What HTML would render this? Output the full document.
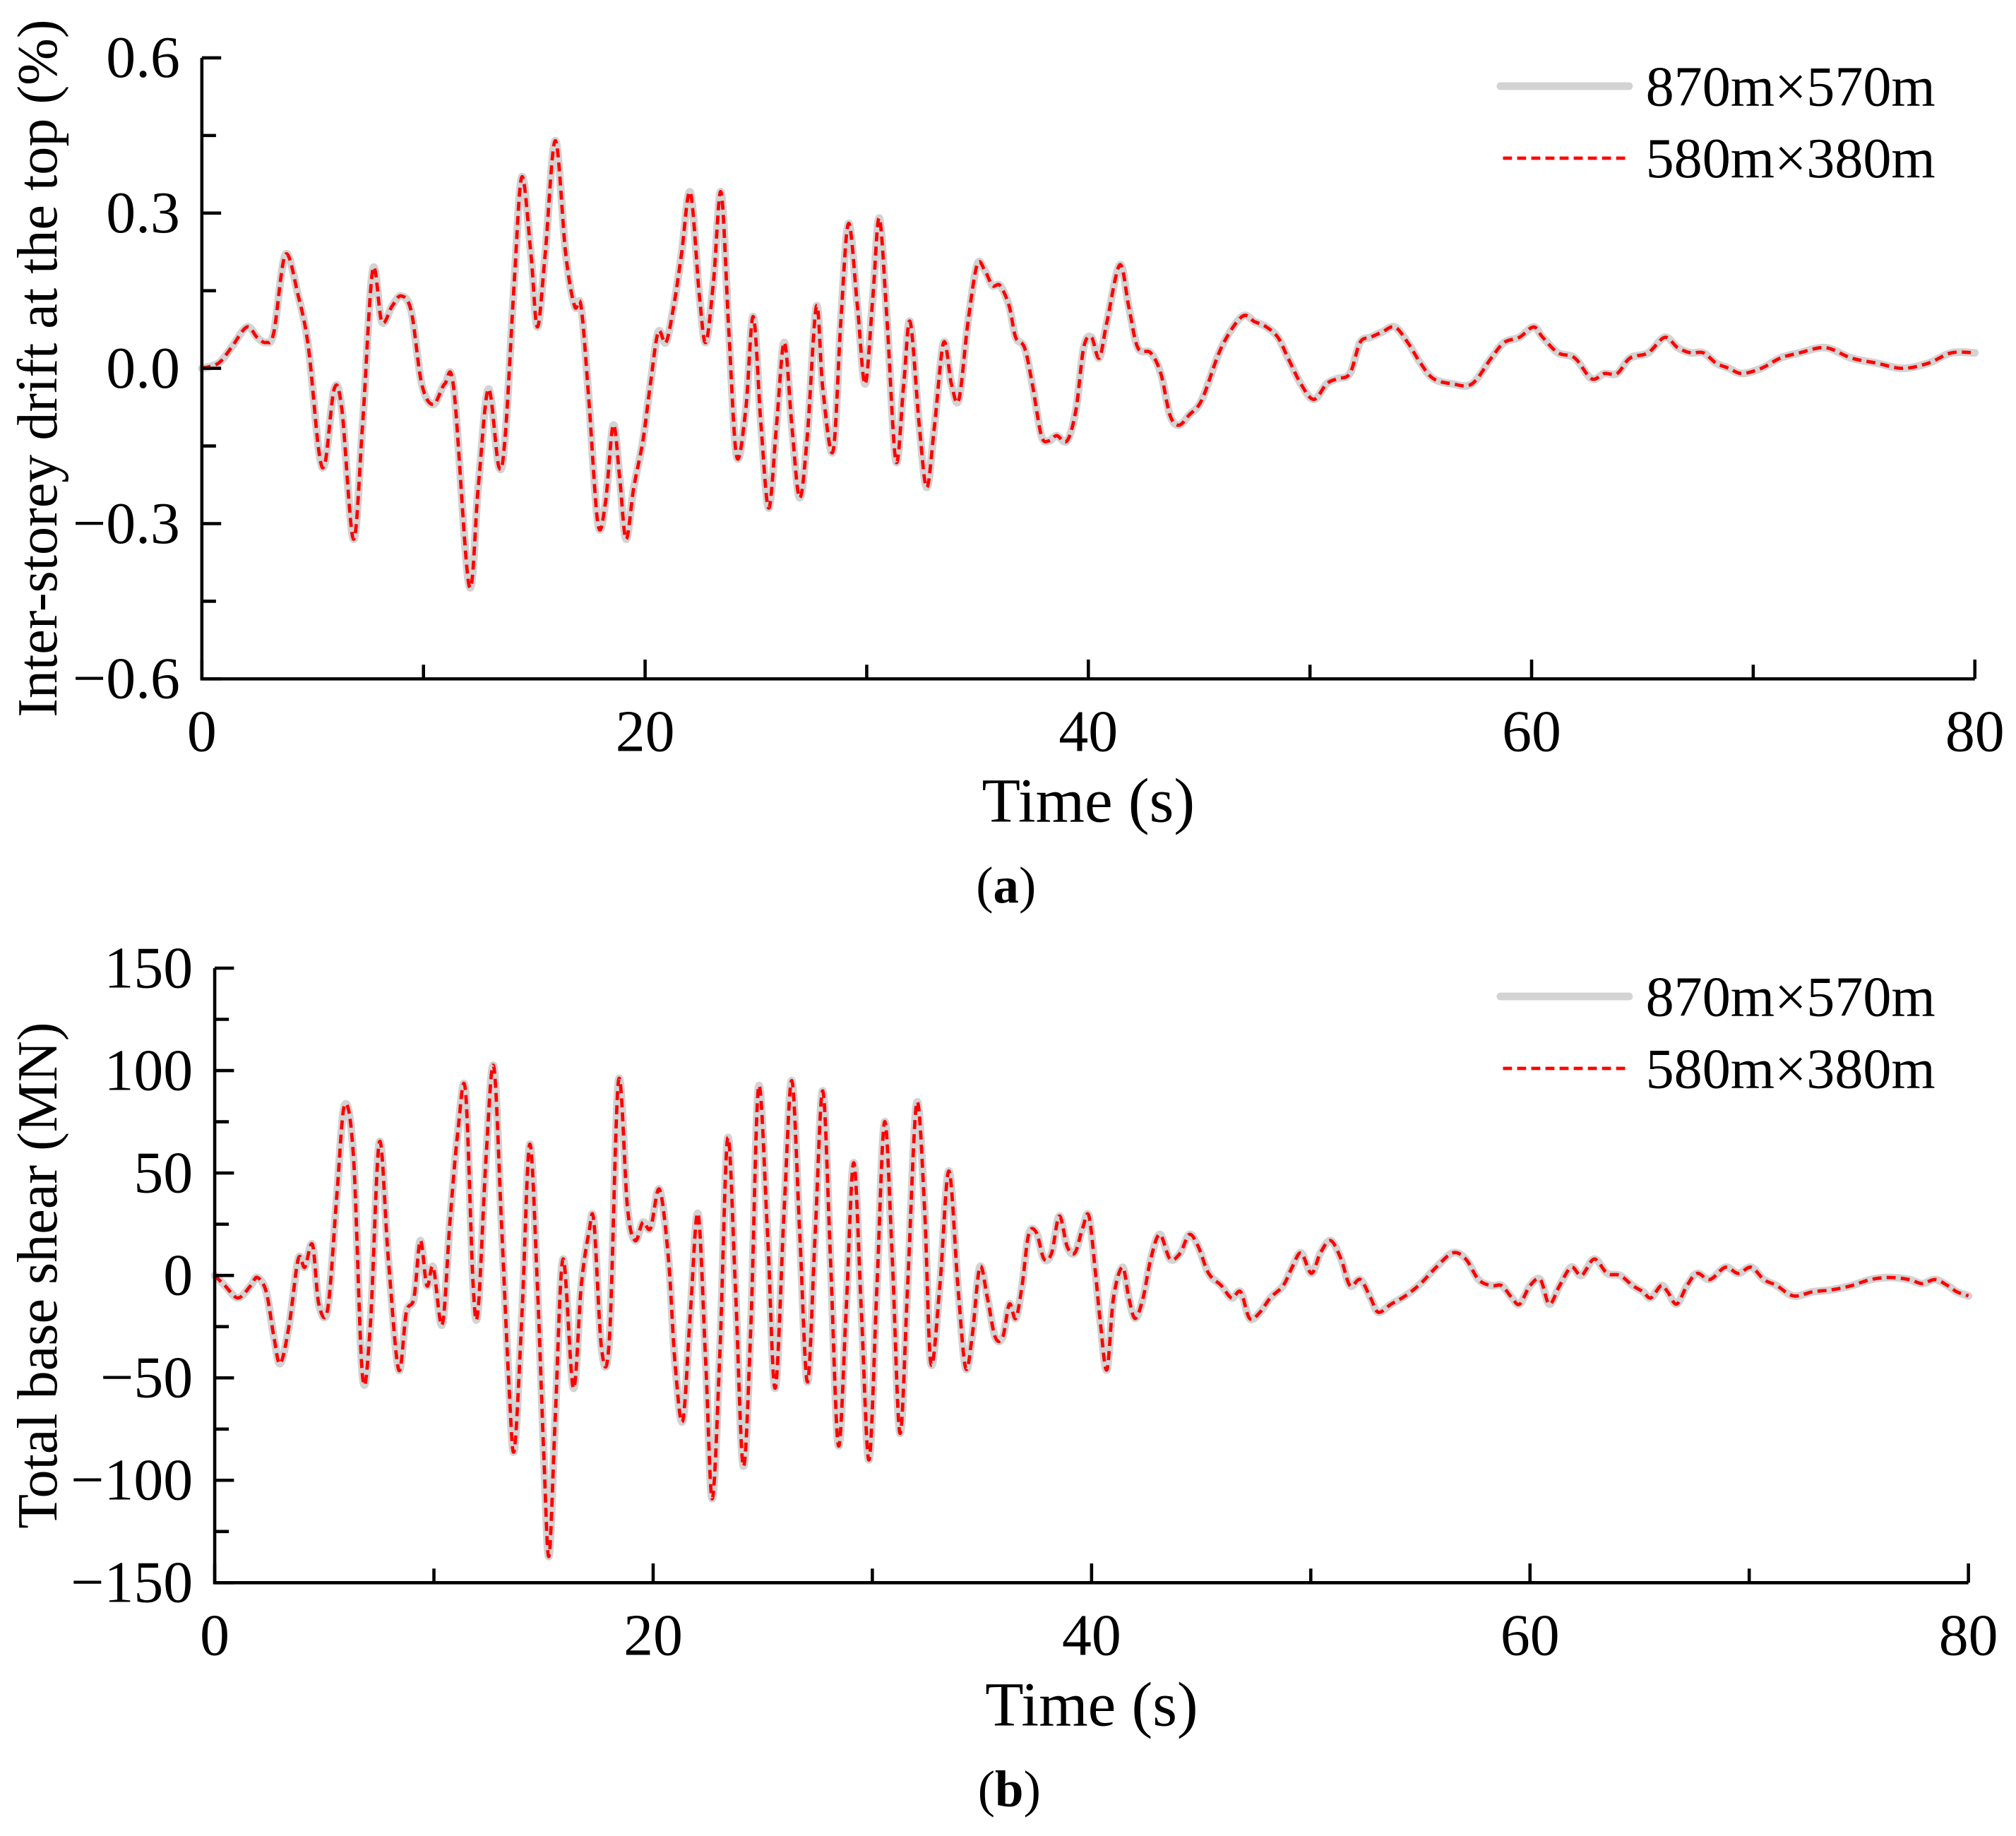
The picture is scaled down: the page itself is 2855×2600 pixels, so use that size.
<!DOCTYPE html>
<html><head><meta charset="utf-8"><style>
html,body{margin:0;padding:0;background:#fff;}
svg{display:block;}
text{font-family:"Liberation Serif","Times New Roman",serif;fill:#000;}
</style></head><body>
<svg id="fig" width="2855" height="2600" viewBox="0 0 1568 1428" preserveAspectRatio="none" xmlns="http://www.w3.org/2000/svg">
<g id="chartA"></g>
<g id="chartB"></g>
</svg>
<script>
// ---- Chart (a) data: inter-storey drift (%) ----
const timeA = [0,0.75,1.33,2.03,2.49,2.9,3.25,3.77,4.35,4.81,5.28,5.57,5.97,6.32,6.84,7.25,7.71,8.12,8.58,8.99,9.45,9.92,10.44,10.96,11.37,12.06,12.47,12.93,13.4,13.69,14.1,14.44,14.85,15.14,15.49,15.95,16.42,16.82,17.11,17.46,17.87,18.21,18.56,18.85,19.14,19.49,19.9,20.24,20.59,20.94,21.29,21.64,22.04,22.45,22.74,23.09,23.43,23.78,24.13,24.54,24.88,25.23,25.58,25.93,26.28,26.62,26.97,27.32,27.73,28.02,28.48,28.83,29.18,29.58,29.93,30.28,30.57,30.92,31.32,31.67,31.96,32.37,32.71,33.06,33.47,33.82,34.16,34.57,34.98,35.32,35.67,36.02,36.43,36.72,37.12,37.47,37.88,38.23,38.57,39.04,39.44,39.79,40.14,40.49,40.84,41.42,41.82,42.23,42.81,43.27,43.68,44.08,44.55,45.13,46.0,46.93,47.51,48.03,48.55,49.01,49.59,50.17,50.75,51.22,51.8,52.26,52.73,53.25,53.83,54.41,54.99,55.57,56.44,57.31,58.18,58.76,59.45,60.09,60.5,61.19,61.95,62.7,63.28,63.86,64.44,65.26,66.01,66.59,67.17,67.75,68.33,68.91,69.49,70.36,71.23,72.1,73.26,74.42,75.58,76.74,77.9,78.94,80];
const driftRed = [0,0.01,0.04,0.08,0.06,0.05,0.07,0.22,0.14,0.04,-0.16,-0.18,-0.04,-0.08,-0.33,-0.11,0.19,0.09,0.12,0.14,0.11,-0.03,-0.07,-0.03,-0.04,-0.42,-0.23,-0.04,-0.19,-0.13,0.17,0.37,0.22,0.08,0.22,0.44,0.22,0.12,0.12,-0.06,-0.3,-0.26,-0.11,-0.21,-0.33,-0.23,-0.14,-0.03,0.07,0.05,0.12,0.22,0.34,0.14,0.05,0.17,0.34,0.07,-0.17,-0.08,0.1,-0.11,-0.27,-0.11,0.05,-0.11,-0.25,-0.13,0.12,-0.04,-0.16,0.09,0.28,0.12,-0.03,0.14,0.29,0.09,-0.18,-0.03,0.09,-0.11,-0.23,-0.11,0.05,-0.03,-0.06,0.09,0.2,0.19,0.16,0.16,0.12,0.06,0.04,-0.03,-0.13,-0.14,-0.13,-0.14,-0.08,0.04,0.06,0.02,0.09,0.2,0.12,0.04,0.03,-0.01,-0.09,-0.11,-0.09,-0.06,0.04,0.1,0.09,0.08,0.06,0.02,-0.03,-0.06,-0.03,-0.02,-0.01,0.05,0.06,0.07,0.08,0.05,0.01,-0.02,-0.03,-0.03,0.02,0.05,0.06,0.08,0.06,0.03,0.02,-0.02,-0.01,-0.01,0.02,0.03,0.06,0.04,0.03,0.03,0.01,0.0,-0.01,0.0,0.02,0.03,0.04,0.02,0.01,0.0,0.01,0.03,0.03];
const driftGray = driftRed.slice();
const yTicksA = [0.6,0.3,0.0,-0.3,-0.6];
const yTickLabelsA = ["0.6","0.3","0.0","\u22120.3","\u22120.6"];
const xTicks = [0,20,40,60,80];
const xTickLabels = ["0","20","40","60","80"];

// ---- Chart (b) data: total base shear (MN) ----
const timeB = [0,0.47,1.06,1.64,1.94,2.35,2.7,2.99,3.4,3.81,4.11,4.46,4.75,5.16,5.57,5.92,6.33,6.74,7.1,7.51,7.92,8.39,8.74,9.09,9.38,9.68,9.97,10.38,10.73,11.09,11.44,11.79,12.02,12.38,12.73,13.08,13.43,13.67,14.02,14.37,14.72,15.01,15.25,15.54,15.89,16.36,16.72,17.07,17.3,17.65,18.01,18.42,18.83,19.18,19.53,19.88,20.29,20.7,21.0,21.35,21.7,22.05,22.4,22.7,23.05,23.4,23.75,24.11,24.46,24.81,25.22,25.57,25.98,26.33,26.69,27.04,27.39,27.74,28.09,28.45,28.8,29.15,29.5,29.85,30.21,30.56,30.91,31.26,31.61,32.02,32.38,32.67,33.08,33.49,33.9,34.25,34.55,34.9,35.25,35.6,35.95,36.25,36.54,36.83,37.13,37.48,37.83,38.18,38.53,38.89,39.24,39.59,39.88,40.18,40.41,40.7,41.0,41.41,41.7,41.99,42.35,42.7,43.11,43.58,44.05,44.46,44.87,45.34,45.92,46.39,46.8,47.21,47.68,48.15,48.74,49.15,49.56,50.03,50.44,50.91,51.38,51.79,52.26,52.73,53.08,53.67,54.31,55.01,55.72,56.48,57.07,57.65,58.24,58.71,59.18,59.53,60.0,60.47,60.88,61.35,61.88,62.35,62.93,63.52,64.11,64.69,65.16,65.51,65.98,66.28,66.69,67.16,67.62,68.21,68.91,69.5,70.09,70.67,71.26,72.02,72.9,73.78,74.66,75.54,76.42,77.3,77.89,78.48,79.06,79.47,80];
const shearRed = [0,-5,-11,-5,-1,-8,-30,-43,-24,8,4,15,-14,-16,39,83,58,-49,-24,65,8,-46,-18,-11,17,-5,4,-24,26,70,90,-5,-16,58,102,26,-55,-85,-18,64,-5,-87,-137,-68,8,-55,-5,21,26,-36,-30,95,33,17,26,23,42,8,-43,-71,-18,30,-43,-109,-36,67,-5,-93,-24,92,20,-55,33,95,20,-52,20,90,8,-83,-18,55,-18,-90,-5,75,8,-77,-5,84,33,-43,-5,51,-5,-45,-30,4,-11,-30,-30,-14,-21,-5,20,21,8,11,29,14,11,23,29,1,-24,-46,-11,4,-11,-21,-11,8,20,8,11,20,14,1,-5,-11,-8,-21,-18,-11,-5,4,11,1,11,17,8,-5,-2,-11,-18,-14,-10,-4,4,11,8,-2,-5,-5,-11,-14,-5,-2,-14,-5,4,0,8,1,0,-5,-8,-11,-5,-8,-14,-5,1,-2,4,1,4,-2,-5,-10,-8,-7,-5,-2,-1,-2,-4,-2,-5,-8,-10];
const shearGray = shearRed.slice();
const yTicksB = [150,100,50,0,-50,-100,-150];
const yTickLabelsB = ["150","100","50","0","\u221250","\u2212100","\u2212150"];

const NS = "http://www.w3.org/2000/svg";
function mk(parent, tag, attrs){
  const e = document.createElementNS(NS, tag);
  for (const k in attrs) e.setAttribute(k, attrs[k]);
  parent.appendChild(e);
  return e;
}
function smoothPath(px, py){
  let d = "M" + px[0].toFixed(2) + "," + py[0].toFixed(2);
  for (let i = 0; i < px.length - 1; i++){
    const x0 = px[Math.max(0,i-1)], y0 = py[Math.max(0,i-1)];
    const x1 = px[i], y1 = py[i], x2 = px[i+1], y2 = py[i+1];
    const x3 = px[Math.min(px.length-1,i+2)], y3 = py[Math.min(px.length-1,i+2)];
    const c1x = x1 + (x2-x0)/6, c1y = y1 + (y2-y0)/6;
    const c2x = x2 - (x3-x1)/6, c2y = y2 - (y3-y1)/6;
    d += " C" + c1x.toFixed(2) + "," + c1y.toFixed(2) + " " + c2x.toFixed(2) + "," + c2y.toFixed(2) + " " + x2.toFixed(2) + "," + y2.toFixed(2);
  }
  return d;
}

function drawChart(g, cfg){
  const xS = t => cfg.x0 + (t - 0) / 80 * (cfg.x1 - cfg.x0);
  const yS = v => cfg.yb + (v - cfg.vmin) / (cfg.vmax - cfg.vmin) * (cfg.yt - cfg.yb);
  const gp = mk(g, "path", {d: smoothPath(cfg.t.map(xS), cfg.gray.map(yS)), fill:"none", stroke:"#d3d3d3", "stroke-width":6, "stroke-linejoin":"round", "stroke-linecap":"round"});
  
  
  const rp = mk(g, "path", {d: smoothPath(cfg.t.map(xS), cfg.red.map(yS)), fill:"none", stroke:"#ff0000", "stroke-width":2.6, "stroke-dasharray":"7 4"});
  
  
  const ya = mk(g, "line", {x1:cfg.x0, y1:cfg.yt, x2:cfg.x0, y2:cfg.yb+1.2, stroke:"#000", "stroke-width":2.5});
  
  
  const xa = mk(g, "line", {x1:cfg.x0-1.2, y1:cfg.yb, x2:cfg.x1, y2:cfg.yb, stroke:"#000", "stroke-width":2.5});
  
  
  for (let i = 0; i < cfg.yTicks.length; i++){
    const v = cfg.yTicks[i];
    const tk = mk(g, "line", {x1:cfg.x0, y1:yS(v), x2:cfg.x0+15, y2:yS(v), stroke:"#000", "stroke-width":2.5});
    
    
    const lb = mk(g, "text", {x:cfg.x0-17, y:yS(v)+15, "font-size":46, "text-anchor":"end"});
    lb.textContent = cfg.yLabels[i];
    
    
    if (i < cfg.yTicks.length - 1){
      const m = (v + cfg.yTicks[i+1]) / 2;
      const mt = mk(g, "line", {x1:cfg.x0, y1:yS(m), x2:cfg.x0+11, y2:yS(m), stroke:"#000", "stroke-width":2.5});
      
      
    }
  }
  for (let i = 0; i < xTicks.length; i++){
    const t = xTicks[i];
    const tk = mk(g, "line", {x1:xS(t), y1:cfg.yb, x2:xS(t), y2:cfg.yb-15, stroke:"#000", "stroke-width":2.5});
    
    
    const lb = mk(g, "text", {x:xS(t), y:cfg.yb+56, "font-size":46, "text-anchor":"middle"});
    lb.textContent = xTickLabels[i];
    
    
    if (i < xTicks.length - 1){
      const m = (t + xTicks[i+1]) / 2;
      const mt = mk(g, "line", {x1:xS(m), y1:cfg.yb, x2:xS(m), y2:cfg.yb-11, stroke:"#000", "stroke-width":2.5});
      
      
    }
  }
  const xt = mk(g, "text", {x:(cfg.x0+cfg.x1)/2, y:cfg.yb+111, "font-size":49, "text-anchor":"middle"});
  xt.textContent = "Time (s)";
  
  
  const yc = (cfg.yt + cfg.yb) / 2;
  const yt = mk(g, "text", {x:0, y:0, "font-size":44, "text-anchor":"middle", transform:"translate(44," + yc + ") rotate(-90)"});
  yt.textContent = cfg.yTitle;
  
  
  const lg = mk(g, "g", {});
  
  
  const l1 = mk(lg, "line", {x1:cfg.legX, y1:cfg.legY, x2:cfg.legX+100, y2:cfg.legY, stroke:"#d3d3d3", "stroke-width":6, "stroke-linecap":"round"});
  
  
  const t1 = mk(lg, "text", {x:cfg.legX+113, y:cfg.legY+15, "font-size":44});
  t1.textContent = "870m\u00d7570m";
  
  
  const l2 = mk(lg, "line", {x1:cfg.legX+2, y1:cfg.legY+56, x2:cfg.legX+100, y2:cfg.legY+56, stroke:"#ff0000", "stroke-width":2.6, "stroke-dasharray":"7 4"});
  
  
  const t2 = mk(lg, "text", {x:cfg.legX+113, y:cfg.legY+71, "font-size":44});
  t2.textContent = "580m\u00d7380m";
  
  
  const cap = mk(g, "text", {x:(cfg.x0+cfg.x1)/2 - 64, y:cfg.capY, "font-size":40, "text-anchor":"middle"});
  cap.innerHTML = '(<tspan font-weight="bold">' + cfg.cap + '</tspan>)';
  
  
}

drawChart(document.getElementById("chartA"), {
  x0:157, x1:1536, yt:45, yb:528, vmin:-0.6, vmax:0.6,
  t:timeA, red:driftRed, gray:driftGray, yTicks:yTicksA, yLabels:yTickLabelsA,
  yTitle:"Inter-storey drift at the top (%)", legX:1167, legY:67, capY:702, cap:"a"
});
drawChart(document.getElementById("chartB"), {
  x0:167, x1:1531, yt:753, yb:1231, vmin:-150, vmax:150,
  t:timeB, red:shearRed, gray:shearGray, yTicks:yTicksB, yLabels:yTickLabelsB,
  yTitle:"Total base shear (MN)", legX:1167, legY:775, capY:1405, cap:"b"
});
</script>
</body></html>
